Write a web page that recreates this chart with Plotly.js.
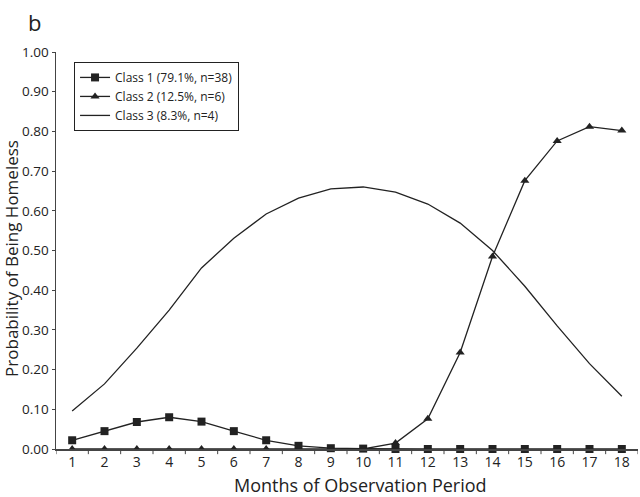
<!DOCTYPE html>
<html>
<head>
<meta charset="utf-8">
<script src="https://cdn.plot.ly/plotly-3.0.1.min.js"></script>
<style>html,body{margin:0;padding:0;background:#fff;}#chart{width:640px;height:497px;}</style>
</head>
<body>
<div id="chart"></div>
<script>
var months = [1,2,3,4,5,6,7,8,9,10,11,12,13,14,15,16,17,18];
var class1 = [0.022,0.045,0.068,0.080,0.069,0.045,0.022,0.008,0.002,0.001,0,0,0,0,0,0,0,0];
var class2 = [0,0,0,0,0,0,0,0,0,0,0.015,0.076,0.243,0.485,0.676,0.776,0.812,0.802];
var class3 = [0.096,0.164,0.254,0.350,0.456,0.531,0.592,0.632,0.655,0.660,0.647,0.617,0.569,0.500,0.410,0.310,0.215,0.133];
var names = ['Class 1 (79.1%, n=38)','Class 2 (12.5%, n=6)','Class 3 (8.3%, n=4)'];
var yTicks = [0,0.1,0.2,0.3,0.4,0.5,0.6,0.7,0.8,0.9,1.0];
var xTitle = 'Months of Observation Period';
var yTitle = 'Probability of Being Homeless';
var panelLabel = 'b';

var lineCol = '#222';
var traces = [
  {x: months, y: class1, name: names[0], type: 'scatter', mode: 'lines+markers', cliponaxis: false,
   line: {color: lineCol, width: 1.3}, marker: {symbol: 'square', size: 8, color: lineCol}},
  {x: months, y: class2, name: names[1], type: 'scatter', mode: 'lines+markers', cliponaxis: false,
   line: {color: lineCol, width: 1.3}, marker: {symbol: 'triangle-up', size: 8, color: lineCol}},
  {x: months, y: class3, name: names[2], type: 'scatter', mode: 'lines', cliponaxis: false,
   line: {color: lineCol, width: 1.3}}
];

var font = 'Open Sans, Lato, sans-serif';
var layout = {
  width: 640, height: 497,
  margin: {l: 56, r: 2, t: 52, b: 48},
  paper_bgcolor: '#fff', plot_bgcolor: '#fff',
  font: {family: font, color: '#222', size: 14},
  showlegend: true,
  legend: {x: 0.031, y: 0.975, xanchor: 'left', yanchor: 'top', bordercolor: '#222', borderwidth: 1,
           bgcolor: '#fff', font: {size: 12, family: font, color: '#222'}, tracegroupgap: 0, itemwidth: 30},
  xaxis: {range: [0.5, 18.5], tickmode: 'array', tickvals: months, ticktext: months.map(String),
          showgrid: false, zeroline: false, showline: true, linecolor: '#444', linewidth: 1.5,
          ticks: '', tickfont: {size: 14}, fixedrange: true},
  yaxis: {range: [0, 1], tickmode: 'array', tickvals: yTicks, ticktext: yTicks.map(function(v){return v.toFixed(2);}),
          showgrid: false, zeroline: false, showline: true, linecolor: '#444', linewidth: 1.5,
          ticks: 'outside', ticklen: 3, tickcolor: '#444', tickfont: {size: 13.5}},
  shapes: months.concat([0]).map(function(m){
    return {type: 'line', xref: 'x', yref: 'paper', x0: m + 0.5, x1: m + 0.5, y0: 0, y1: -0.013,
            line: {color: '#444', width: 1}};
  }),
  annotations: [
    {text: panelLabel, xref: 'paper', yref: 'paper', x: -0.052, y: 1.118, xanchor: 'left', yanchor: 'top',
     showarrow: false, font: {size: 22, family: font, color: '#222'}},
    {text: yTitle, xref: 'paper', yref: 'paper', x: -0.0765, y: 0.48, xanchor: 'center', yanchor: 'middle',
     textangle: -90, showarrow: false, borderpad: 0, font: {size: 17, family: font, color: '#222'}},
    {text: xTitle, xref: 'paper', yref: 'paper', x: 0.524, y: -0.0907, xanchor: 'center', yanchor: 'middle',
     showarrow: false, font: {size: 18, family: font, color: '#222'}}
  ]
};
Plotly.newPlot('chart', traces, layout, {staticPlot: true, displayModeBar: false});
</script>
</body>
</html>
